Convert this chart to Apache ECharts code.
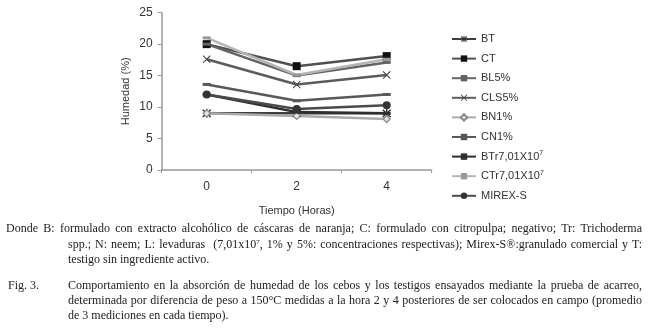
<!DOCTYPE html>
<html>
<head>
<meta charset="utf-8">
<script src="https://cdn.jsdelivr.net/npm/echarts@6/dist/echarts.min.js"></script>
<style>
body { margin: 0; background: #fff; }
#main { position: absolute; left: 0; top: 0; width: 648px; height: 334px; }
.cap { position: absolute; font-family: "Liberation Serif", serif; font-size: 12px; color: #222; line-height: 15px; white-space: nowrap; }
.just { text-align: justify; text-align-last: justify; white-space: normal; }
sup { font-size: 7px; vertical-align: 4px; line-height: 0; }
</style>
</head>
<body>
<div id="main"></div>
<div class="cap just" style="left:6px; top:221px; width:636px;">Donde B: formulado con extracto alcohólico de cáscaras de naranja; C: formulado con citropulpa; negativo; Tr: Trichoderma</div>
<div class="cap just" style="left:68px; top:236.5px; width:574px;">spp.; N: neem; L: levaduras &nbsp;(7,01x10<sup>7</sup>, 1% y 5%: concentraciones respectivas); Mirex-S®:granulado comercial y T:</div>
<div class="cap" style="left:68px; top:252px;">testigo sin ingrediente activo.</div>
<div class="cap" style="left:8px; top:278px;">Fig. 3.</div>
<div class="cap just" style="left:68px; top:278px; width:574px;">Comportamiento en la absorción de humedad de los cebos y los testigos ensayados mediante la prueba de acarreo,</div>
<div class="cap just" style="left:68px; top:293px; width:574px;">determinada por diferencia de peso a 150°C medidas a la hora 2 y 4 posteriores de ser colocados en campo (promedio</div>
<div class="cap" style="left:68px; top:308px;">de 3 mediciones en cada tiempo).</div>
<script>
var horas = ['0', '2', '4'];
var yTicks = [0, 5, 10, 15, 20, 25];
var nombres = ['BT', 'CT', 'BL5%', 'CLS5%', 'BN1%', 'CN1%', 'BTr7,01X10{sup|7}', 'CTr7,01X10{sup|7}', 'MIREX-S'];
var bt = [9.0, 9.0, 9.0];
var ct = [20.0, 16.5, 18.1];
var bl5 = [20.0, 15.0, 17.1];
var cls5 = [17.6, 13.6, 15.1];
var bn1 = [9.0, 8.6, 8.1];
var cn1 = [13.6, 11.0, 12.0];
var btr = [12.0, 9.2, 9.0];
var ctr = [21.0, 15.1, 17.6];
var mirex = [12.0, 9.7, 10.3];

var asterisco = 'path://M-0.7,-5L0.7,-5L0.7,5L-0.7,5Z M-3.5,-4.5L4.5,3.5L3.5,4.5L-4.5,-3.5Z M3.5,-4.5L4.5,-3.5L-3.5,4.5L-4.5,3.5Z';
var equis = 'path://M-3.6,-4.4L4.4,3.6L3.6,4.4L-4.4,-3.6Z M3.6,-4.4L4.4,-3.6L-3.6,4.4L-4.4,3.6Z';

function serie(nombre, datos, color, simbolo, tam, colorSim, relleno) {
    return {
        name: nombre,
        type: 'line',
        data: datos,
        symbol: simbolo,
        symbolSize: tam,
        showSymbol: true,
        lineStyle: { color: color, width: 2.5 },
        itemStyle: { color: relleno || colorSim, borderColor: colorSim, borderWidth: relleno ? 1.2 : 0 },
        emphasis: { disabled: true },
        animation: false
    };
}

var chart = echarts.init(document.getElementById('main'));
var option = {
    animation: false,
    textStyle: { fontFamily: 'Liberation Sans, Arial, sans-serif' },
    grid: { left: 161.7, top: 12.7, width: 270, height: 157.3 },
    legend: {
        orient: 'vertical',
        left: 446,
        top: 27,
        itemWidth: 24,
        itemHeight: 8,
        itemGap: 5.6,
        data: nombres,
        textStyle: {
            fontSize: 11, color: '#333', lineHeight: 14,
            rich: { sup: { fontSize: 7, verticalAlign: 'top', lineHeight: 14, padding: [0, 0, 7, 0] } }
        }
    },
    xAxis: {
        type: 'category',
        data: horas,
        boundaryGap: true,
        name: 'Tiempo (Horas)',
        nameLocation: 'middle',
        nameGap: 35,
        nameTextStyle: { fontSize: 11, color: '#333', verticalAlign: 'top' },
        axisLine: { lineStyle: { color: '#999', width: 1.5 } },
        axisTick: { show: true, length: 3, lineStyle: { color: '#999' } },
        axisLabel: { fontSize: 12, color: '#333', margin: 11 }
    },
    yAxis: {
        type: 'value',
        min: 0,
        max: 25,
        interval: 5,
        name: 'Humedad (%)',
        nameLocation: 'middle',
        nameGap: 30,
        nameTextStyle: { fontSize: 11, color: '#333' },
        axisLine: { show: true, lineStyle: { color: '#999', width: 1.5 } },
        axisTick: { show: true, length: 4, lineStyle: { color: '#999' } },
        axisLabel: { fontSize: 12, color: '#333', margin: 9 },
        splitLine: { show: false }
    },
    series: [
        serie(nombres[0], bt, '#3d3d3d', asterisco, 9, '#333'),
        serie(nombres[1], ct, '#505050', 'rect', 8, '#111'),
        serie(nombres[2], bl5, '#636363', 'rect', [8, 3], '#636363'),
        serie(nombres[3], cls5, '#5c5c5c', equis, 8, '#444'),
        serie(nombres[4], bn1, '#aaaaaa', 'diamond', 7, '#888', '#e6e6e6'),
        serie(nombres[5], cn1, '#585858', 'rect', [8, 3], '#585858'),
        serie(nombres[6], btr, '#2e2e2e', 'rect', [8, 3], '#2e2e2e'),
        serie(nombres[7], ctr, '#b5b5b5', 'rect', [8, 3], '#999'),
        serie(nombres[8], mirex, '#4a4a4a', 'circle', 8, '#333')
    ]
};
chart.setOption(option);
</script>
</body>
</html>
